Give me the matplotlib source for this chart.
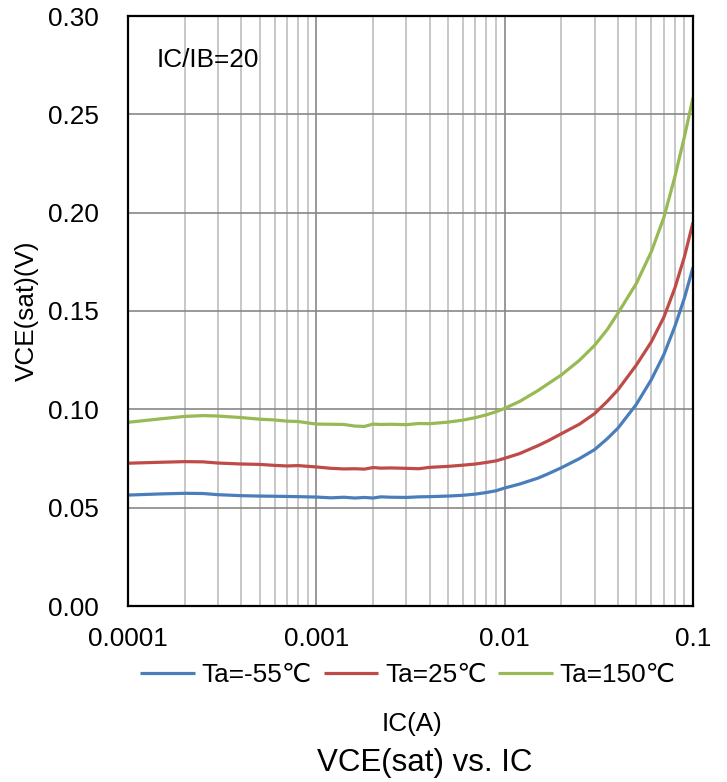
import matplotlib
matplotlib.use("Agg")
import matplotlib.pyplot as plt
from matplotlib.ticker import LogLocator, FixedLocator, NullFormatter

plt.rcParams['font.family'] = ['Liberation Sans', 'DejaVu Sans']

# ---------------- data ----------------
ic = [1e-4, 1.5e-4, 2e-4, 2.5e-4, 3e-4, 4e-4, 5e-4, 6e-4, 7e-4, 8e-4,
      1e-3, 1.2e-3, 1.4e-3, 1.6e-3, 1.8e-3, 2e-3, 2.2e-3, 2.5e-3, 3e-3, 3.5e-3,
      4e-3, 5e-3, 6e-3, 7e-3, 8e-3, 9e-3,
      1e-2, 1.2e-2, 1.5e-2, 1.7e-2, 2e-2, 2.5e-2, 3e-2, 3.5e-2,
      4e-2, 5e-2, 6e-2, 7e-2, 8e-2, 9e-2, 1e-1]

vce_m55 = [0.0564, 0.0570, 0.0573, 0.0572, 0.0566, 0.0561, 0.0559, 0.0558, 0.0557, 0.0556,
           0.0554, 0.0550, 0.0553, 0.0549, 0.0552, 0.0549, 0.0555, 0.0553, 0.0552, 0.0555,
           0.0556, 0.0559, 0.0563, 0.0569, 0.0577, 0.0586,
           0.0600, 0.0620, 0.0650, 0.0672, 0.0703, 0.0750, 0.0795, 0.0850,
           0.0905, 0.1025, 0.1150, 0.1278, 0.1420, 0.1565, 0.1722]

vce_25 = [0.0726, 0.0731, 0.0734, 0.0733, 0.0727, 0.0722, 0.0720, 0.0715, 0.0712, 0.0714,
          0.0707, 0.0700, 0.0697, 0.0698, 0.0696, 0.0704, 0.0701, 0.0702, 0.0700, 0.0698,
          0.0705, 0.0710, 0.0716, 0.0722, 0.0730, 0.0738,
          0.0751, 0.0775, 0.0815, 0.0840, 0.0876, 0.0925, 0.0978, 0.1040,
          0.1100, 0.1225, 0.1342, 0.1468, 0.1615, 0.1775, 0.1950]

vce_150 = [0.0934, 0.0952, 0.0964, 0.0968, 0.0966, 0.0958, 0.0950, 0.0946, 0.0940, 0.0938,
           0.0925, 0.0924, 0.0923, 0.0915, 0.0913, 0.0925, 0.0923, 0.0924, 0.0922, 0.0928,
           0.0927, 0.0935, 0.0945, 0.0958, 0.0972, 0.0988,
           0.1005, 0.1040, 0.1095, 0.1130, 0.1175, 0.1250, 0.1325, 0.1405,
           0.1490, 0.1640, 0.1800, 0.1975, 0.2180, 0.2385, 0.2585]

labels = ['Ta=-55℃', 'Ta=25℃', 'Ta=150℃']
colors = ['#4a7ebb', '#be4b48', '#98b954']

x_ticks = [1e-4, 1e-3, 1e-2, 1e-1]
x_ticklabels = ['0.0001', '0.001', '0.01', '0.1']
y_ticks = [0.0, 0.05, 0.10, 0.15, 0.20, 0.25, 0.30]

# ---------------- figure ----------------
W, H = 727, 782
fig = plt.figure(figsize=(W / 100, H / 100), dpi=100)
L, R, T, B = 128, 693, 16, 606
ax = fig.add_axes([L / W, 1 - B / H, (R - L) / W, (B - T) / H])

for y, lab, c in zip([vce_m55, vce_25, vce_150], labels, colors):
    ax.plot(ic, y, color=c, lw=2.3, label=lab, solid_capstyle='butt')

ax.set_xscale('log')
ax.set_xlim(1e-4, 1e-1)
ax.set_ylim(0, 0.30)

ax.xaxis.set_major_locator(FixedLocator(x_ticks))
ax.set_xticklabels(x_ticklabels)
ax.xaxis.set_minor_locator(LogLocator(base=10, subs=range(2, 10)))
ax.xaxis.set_minor_formatter(NullFormatter())
ax.set_yticks(y_ticks)
ax.set_yticklabels(['%.2f' % v for v in y_ticks])

ax.grid(which='major', axis='both', color='#878787', lw=1.2)
ax.grid(which='minor', axis='x', color='#bdbdbd', lw=1.2)
ax.set_axisbelow(True)

fs = 18.8
ax.tick_params(which='both', length=0, labelsize=fs)
ax.tick_params(axis='y', pad=21)
ax.tick_params(axis='x', pad=15)

for s in ax.spines.values():
    s.set_color('black')
    s.set_linewidth(1.6)

ax.text(0.05, 0.925, 'IC/IB=20', transform=ax.transAxes, fontsize=fs,
        ha='left', va='center')

fig.text(27 / W, 1 - 311 / H, 'VCE(sat)(V)', rotation=90, fontsize=fs,
         ha='center', va='center')

fig.legend(loc='center', bbox_to_anchor=(408 / W, 1 - 675 / H), ncol=3,
           frameon=False, fontsize=fs, handlelength=2.1, handletextpad=0.25,
           columnspacing=0.45, borderaxespad=0, borderpad=0)

fig.text(412 / W, 1 - 724 / H, 'IC(A)', fontsize=fs, ha='center', va='center')
fig.text(425 / W, 1 - 763 / H, 'VCE(sat) vs. IC', fontsize=22.5,
         ha='center', va='center')

fig.savefig('out.png', dpi=100)
